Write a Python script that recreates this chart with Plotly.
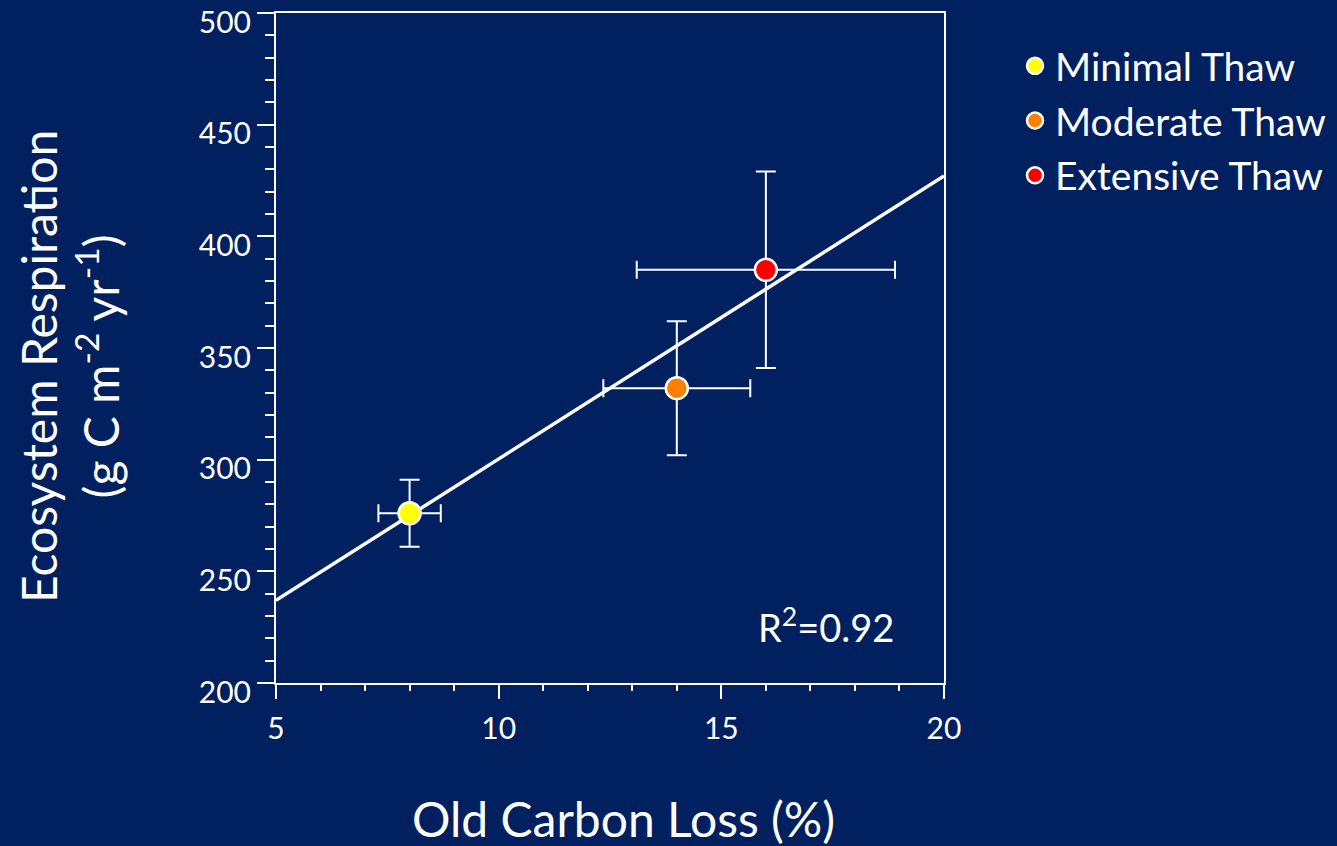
import plotly.graph_objects as go

# Data
categories = ["Minimal Thaw", "Moderate Thaw", "Extensive Thaw"]
old_carbon_loss = [8.0, 14.0, 16.0]
old_carbon_err = [0.7, 1.65, 2.9]
eco_resp = [276, 332, 385]
eco_resp_err = [15, 30, 44]
colors = ["#FFFF00", "#FF8000", "#FF0000"]

fit_x = [5, 20]
fit_y = [237, 427]

x_ticks = [5, 10, 15, 20]
y_ticks = [200, 250, 300, 350, 400, 450, 500]

BG = "#002060"
FONT = "Lato"

fig = go.Figure()

fig.add_trace(go.Scatter(
    x=fit_x, y=fit_y, mode="lines",
    line=dict(color="white", width=3.5),
    showlegend=False, hoverinfo="skip",
))

for i, name in enumerate(categories):
    fig.add_trace(go.Scatter(
        x=[old_carbon_loss[i]], y=[eco_resp[i]],
        mode="markers", name=name, legendgroup=name,
        marker=dict(color=colors[i], size=22, line=dict(color="white", width=2.5)),
        error_x=dict(type="data", array=[old_carbon_err[i]], color="white", thickness=2, width=9),
        error_y=dict(type="data", array=[eco_resp_err[i]], color="white", thickness=2, width=10),
    ))

axis_common = dict(
    showgrid=False, zeroline=False, automargin=False,
    showline=True, linecolor="white", linewidth=2, mirror=True,
    ticks="outside", tickcolor="white", tickwidth=2,
    tickfont=dict(family=FONT, size=30, color="white"),
)

fig.update_xaxes(
    range=[5, 20], tickvals=x_ticks, ticklen=14, ticklabelstandoff=4,
    minor=dict(dtick=1, ticks="outside", ticklen=6, tickcolor="white", tickwidth=2),
    **axis_common,
)
fig.update_yaxes(
    range=[200, 500], tickvals=y_ticks, ticklen=17, ticklabelshift=9,
    minor=dict(dtick=10, ticks="outside", ticklen=9, tickcolor="white", tickwidth=2),
    **axis_common,
)

fig.add_annotation(
    text="R<sup>2</sup>=0.92", x=17.36, y=226, xref="x", yref="y",
    showarrow=False, font=dict(family=FONT, size=38, color="white"),
)
fig.add_annotation(
    text="Old Carbon Loss (%)", x=(623 - 276) / 668, y=(683 - 819) / 670, xref="paper", yref="paper",
    xanchor="center", yanchor="middle",
    showarrow=False, font=dict(family=FONT, size=48, color="white"),
)
fig.add_annotation(
    text="Ecosystem Respiration<br>(g C m<sup>-2</sup> yr<sup>-1</sup>)",
    x=(69 - 276) / 668, y=(683 - 367) / 670, xref="paper", yref="paper",
    xanchor="center", yanchor="middle", textangle=-90,
    showarrow=False, font=dict(family=FONT, size=48, color="white"),
)

fig.update_layout(
    width=1337, height=846,
    paper_bgcolor=BG, plot_bgcolor=BG,
    margin=dict(l=276, r=393, t=13, b=163, autoexpand=False),
    showlegend=True,
    legend=dict(
        x=(1015 - 276) / 668, y=(683 - 34) / 670, xanchor="left", yanchor="top",
        font=dict(family=FONT, size=39, color="white"),
        bgcolor="rgba(0,0,0,0)", tracegroupgap=1,
    ),
)

fig.write_html("out.html", config={"displayModeBar": False},
               post_script="document.body.style.margin='0';")
